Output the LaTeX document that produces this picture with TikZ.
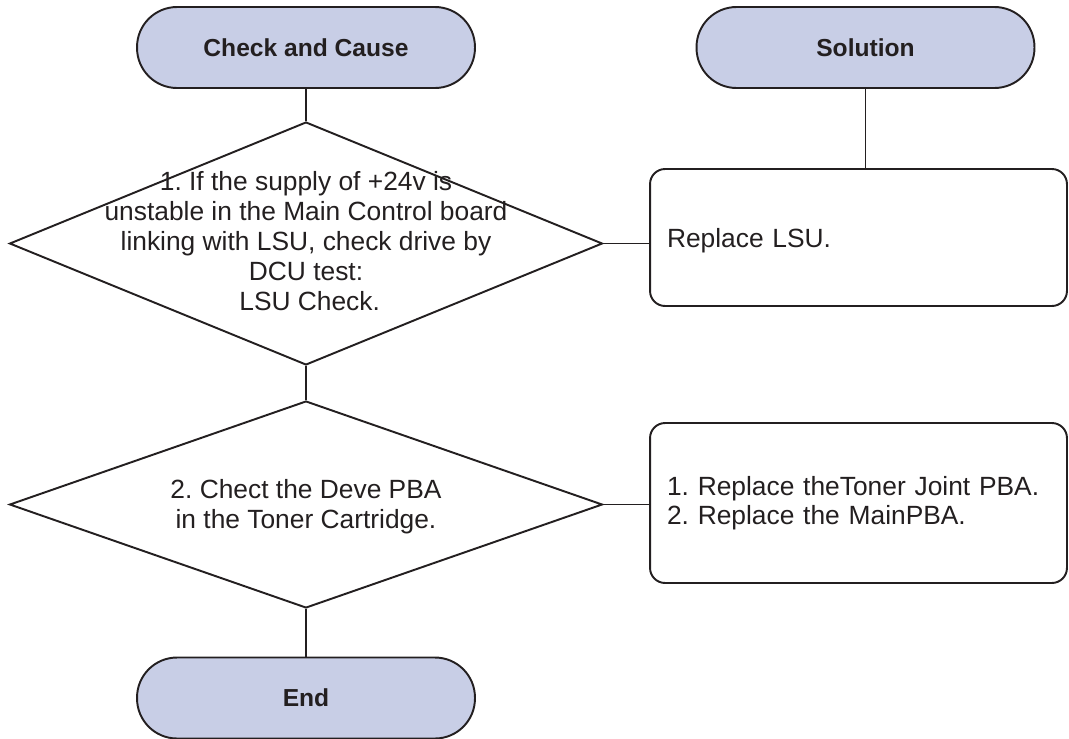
\documentclass[tikz,border=0pt]{standalone}
\usepackage{fontspec}
\setmainfont{Liberation Sans}
\usetikzlibrary{shapes.geometric, positioning}
\definecolor{termfill}{HTML}{C8CEE6}
\definecolor{ink}{HTML}{231F20}
\frenchspacing

\begin{document}
\begin{tikzpicture}[
  x=0.02cm, y=-0.02cm, color=ink, line width=1.1pt,
  term/.style={rectangle, rounded corners=0.8cm, draw, fill=termfill, minimum width=6.76cm, minimum height=1.62cm, font=\fontsize{14}{16.5}\selectfont\bfseries},
  dec/.style={diamond, draw, inner sep=0pt, minimum width=11.86cm},
  fixbox/.style={rectangle, rounded corners=0.3cm, draw, text width=7.66cm, inner xsep=0.34cm, align=left, font=\fontsize{15}{16.5}\selectfont},
  lbl/.style={align=center, font=\fontsize{15}{17}\selectfont},
]
\useasboundingbox (0,0) rectangle (1069,738);

\node[term] (cause)    at (306,47.5)   {Check and Cause};
\node[term] (solution) at (865.5,47.5) {Solution};
\node[dec, minimum height=4.86cm] (chk1) at (306,243.5) {};
\node[dec, minimum height=4.14cm] (chk2) at (306,504.5) {};
\node[term] (stop)     at (306,698)    {End};
\node[fixbox, minimum height=2.74cm, text depth=0pt] (fix1) at (858.5,237.5) {Replace LSU.};
\node[fixbox, minimum height=3.2cm]  (fix2) at (858.5,503)   {1. Replace theToner Joint PBA.\\2. Replace the MainPBA.};

\node[lbl] (txt1) at (306,241) {1. If the supply of +24v is\\unstable in the Main Control board\\linking with LSU, check drive by\\DCU test:\\\ LSU Check.};
\node[lbl] (txt2) at (306,507) {2. Chect the Deve PBA\\in the Toner Cartridge.};

\draw (cause) -- (chk1);
\draw (chk1)  -- (chk2);
\draw (chk2)  -- (stop);
\draw (solution.south) -- (solution.south |- fix1.north);
\draw (chk1.east) -- (chk1.east -| fix1.west);
\draw (chk2.east) -- (chk2.east -| fix2.west);
\end{tikzpicture}
\end{document}
